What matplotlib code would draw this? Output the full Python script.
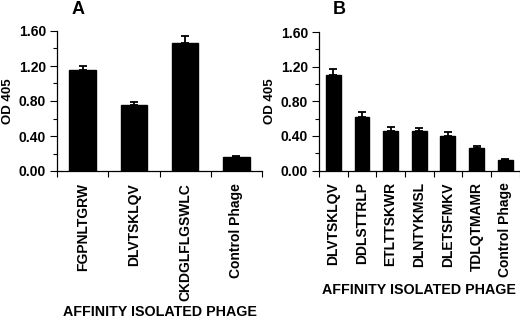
import numpy as np
import matplotlib
matplotlib.use("Agg")
import matplotlib.pyplot as plt
from matplotlib.ticker import MultipleLocator, FormatStrFormatter

# valores (OD 405)
phage_a = ['FGPNLTGRW', 'DLVTSKLQV', 'CKDGLFLGSWLC', 'Control Phage']
od_a = [1.16, 0.76, 1.46, 0.164]
err_a = [0.035, 0.023, 0.083, 0.008]

phage_b = ['DLVTSKLQV', 'DDLSTTRLP', 'ETLTTSKWR', 'DLNTYKMSL',
           'DLETSFMKV', 'TDLQTMAMR', 'Control Phage']
od_b = [1.10, 0.614, 0.456, 0.453, 0.398, 0.26, 0.121]
err_b = [0.07, 0.058, 0.043, 0.043, 0.05, 0.027, 0.015]

plt.rcParams['font.family'] = ['Liberation Sans', 'DejaVu Sans']
plt.rcParams['font.weight'] = 'bold'

fig = plt.figure(figsize=(5.2, 3.2), dpi=100)
ax_a = fig.add_axes([57/520, 149/320, 205/520, 140/320])
ax_b = fig.add_axes([319/520, 149.5/320, 200.5/520, 138.5/320])


def painel(ax, nomes, valores, erros):
    x = np.arange(len(nomes))
    ax.bar(x, valores, width=0.52, color='black', edgecolor='black')
    ax.errorbar(x, valores, yerr=[np.zeros(len(erros)), erros], fmt='none',
                ecolor='black', elinewidth=1.3, capsize=3, capthick=1.3)
    ax.set_xlim(-0.5, len(nomes) - 0.5)
    ax.set_ylim(0, 1.6)
    ax.yaxis.set_major_locator(MultipleLocator(0.4))
    ax.yaxis.set_minor_locator(MultipleLocator(0.2))
    ax.yaxis.set_major_formatter(FormatStrFormatter('%.2f'))
    ax.set_xticks(x)
    ax.set_xticklabels(nomes, rotation=90, fontsize=10, fontweight='bold')
    ax.set_xticks(np.arange(-0.5, len(nomes)), minor=True)
    ax.tick_params(axis='x', which='major', length=0, pad=8.5)
    ax.tick_params(axis='x', which='minor', length=4, width=0.8)
    ax.tick_params(axis='y', which='major', length=5, width=0.8, labelsize=10, pad=3)
    ax.tick_params(axis='y', which='minor', length=3, width=0.8)
    for s in ['top', 'right']:
        ax.spines[s].set_visible(False)
    for s in ['left', 'bottom']:
        ax.spines[s].set_linewidth(0.9)
    ax.set_ylabel('OD 405', fontsize=9.5, fontweight='bold')
    ax.set_xlabel('AFFINITY ISOLATED PHAGE', fontsize=10.3, fontweight='bold')


painel(ax_a, phage_a, od_a, err_a)
painel(ax_b, phage_b, od_b, err_b)

ax_a.yaxis.set_label_coords(-0.208, 0.5)
ax_b.yaxis.set_label_coords(-0.212, 0.5)
ax_a.xaxis.set_label_coords(0.5, -0.955)
ax_b.xaxis.set_label_coords(0.5, -0.81)

fig.text(78/520, 1 - 10/320, 'A', fontsize=13, fontweight='bold', ha='center', va='center')
fig.text(339/520, 1 - 10/320, 'B', fontsize=13, fontweight='bold', ha='center', va='center')

fig.savefig('out.png', dpi=100)
